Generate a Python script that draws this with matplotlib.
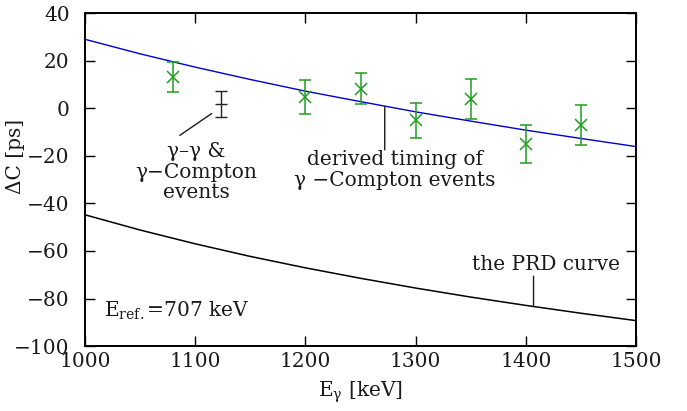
import matplotlib
matplotlib.use('Agg')
import matplotlib.pyplot as plt
import numpy as np

# derived timing curve (blue) and PRD curve (black)
curve_e = [1000, 1050, 1100, 1150, 1200, 1250, 1300, 1350, 1400, 1450, 1500]
derived_c = [29.0, 22.9, 17.3, 12.1, 7.2, 2.8, -1.5, -5.4, -9.2, -12.7, -16.1]
prd_c = [-44.8, -51.2, -57.0, -62.3, -67.1, -71.5, -75.6, -79.4, -82.9, -86.2, -89.3]

# gamma-Compton points (green)
comp_e = [1080, 1200, 1250, 1300, 1350, 1400, 1450]
comp_c = [13.2, 4.7, 8.2, -5.0, 3.8, -15.0, -6.9]
comp_err = [6.3, 7.0, 6.5, 7.4, 8.5, 8.0, 8.4]

# gamma-gamma & gamma-Compton point (black)
gg_e = [1123]
gg_c = [1.7]
gg_err = [5.5]

plt.rcParams['font.family'] = ['DejaVu Serif']
plt.rcParams['mathtext.fontset'] = 'custom'
plt.rcParams['mathtext.rm'] = 'DejaVu Serif'
plt.rcParams['font.size'] = 14.5

fig = plt.figure(figsize=(6.87, 4.11), dpi=100)
ax = fig.add_axes([0.1237, 0.158, 0.8021, 0.810])

ax.plot(curve_e, derived_c, color='#0000c8', linewidth=1.0)
ax.plot(curve_e, prd_c, color='black', linewidth=1.1)

ax.errorbar(comp_e, comp_c, yerr=comp_err, fmt='x', color='#1f9e1f',
            markersize=8, markeredgewidth=1.1, elinewidth=1.1,
            capsize=4, capthick=1.1)
ax.errorbar(gg_e, gg_c, yerr=gg_err, fmt='_', color='#222222',
            markersize=8, markeredgewidth=1.0, elinewidth=1.0,
            capsize=4, capthick=1.0)

txt = '#1a1a1a'
ax.annotate('', xy=(1115, -2.2), xytext=(1086, -11.4),
            arrowprops=dict(arrowstyle='-', color=txt, lw=1.0,
                            shrinkA=0, shrinkB=0))
ax.text(1101, -27, 'γ–γ &\nγ−Compton\nevents', ha='center', va='center',
        color=txt, linespacing=1.1)

ax.annotate('', xy=(1272, 0.5), xytext=(1272, -17.5),
            arrowprops=dict(arrowstyle='-', color=txt, lw=1.0,
                            shrinkA=0, shrinkB=0))
ax.text(1281, -26, 'derived timing of\nγ −Compton events', ha='center',
        va='center', color=txt, linespacing=1.1)

ax.annotate('', xy=(1407, -83.2), xytext=(1407, -70.6),
            arrowprops=dict(arrowstyle='-', color=txt, lw=1.0,
                            shrinkA=0, shrinkB=0))
ax.text(1418, -65.6, 'the PRD curve', ha='center', va='center', color=txt)

ax.text(1017, -85, r'E$_{\mathrm{ref.}}$=707 keV', ha='left', va='center',
        color=txt)

ax.set_xlim(1000, 1500)
ax.set_ylim(-100, 40)
ax.set_xticks(np.arange(1000, 1501, 100))
ax.set_yticks(np.arange(-100, 41, 20))
ax.tick_params(direction='in', length=7, width=1.0, top=True, right=True,
               colors='black', labelcolor=txt)
ax.tick_params(axis='x', pad=4.5)
ax.tick_params(axis='y', pad=11)
for s in ax.spines.values():
    s.set_linewidth(1.4)

ax.set_xlabel(r'E$_{\mathrm{γ}}$ [keV]', color=txt, labelpad=6)
ax.set_ylabel('ΔC [ps]', color=txt)
ax.yaxis.set_label_coords(-0.108, 0.57)

fig.savefig('out.png', dpi=100)
